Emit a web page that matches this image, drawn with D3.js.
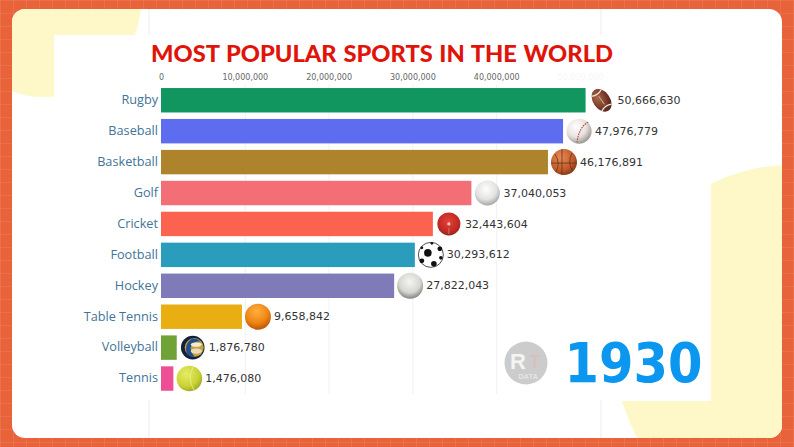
<!DOCTYPE html>
<html>
<head>
<meta charset="utf-8">
<script src="https://cdn.jsdelivr.net/npm/d3@7"></script>
<style>
html, body { margin: 0; padding: 0; background: #E8633A; overflow: hidden; }
</style>
</head>
<body>
<div class="chart"></div>
<script>
const sports = ["Rugby", "Baseball", "Basketball", "Golf", "Cricket", "Football", "Hockey", "Table Tennis", "Volleyball", "Tennis"]
const players = [50666630, 47976779, 46176891, 37040053, 32443604, 30293612, 27822043, 9658842, 1876780, 1476080]
const barColors = ["#12965F", "#5E6CF0", "#AD832B", "#F36F75", "#FB6350", "#2A9CBC", "#7E7BB8", "#E9AE12", "#6FA335", "#EE4F94"]
const tickValues = [0, 10000000, 20000000, 30000000, 40000000, 50000000]
const title = "MOST POPULAR SPORTS IN THE WORLD"
const year = "1930"

const width = 794, height = 447

const svg = d3.select(".chart").append("svg")
    .attr("width", width)
    .attr("height", height)
    .style("display", "block")

const defs = svg.append("defs")

function ballGradient(id, stops, cx = "38%", cy = "32%") {
    const g = defs.append("radialGradient").attr("id", id).attr("cx", cx).attr("cy", cy).attr("r", "75%")
    stops.forEach(s => g.append("stop").attr("offset", s[0]).attr("stop-color", s[1]))
}
ballGradient("g-rugby", [["0%", "#A9694A"], ["60%", "#7A3B28"], ["100%", "#4E2219"]])
ballGradient("g-base", [["0%", "#FFFFFF"], ["55%", "#E8E2DE"], ["100%", "#8F8A87"]])
ballGradient("g-basket", [["0%", "#E58A55"], ["65%", "#C25A2B"], ["100%", "#7A3214"]])
ballGradient("g-golf", [["0%", "#FFFFFF"], ["55%", "#E2E2E0"], ["100%", "#8C8C8A"]], "45%", "35%")
ballGradient("g-cricket", [["0%", "#E8403A"], ["60%", "#BE2A22"], ["100%", "#6E1B14"]], "48%", "40%")
ballGradient("g-hockey", [["0%", "#F5F5F3"], ["55%", "#D6D6D2"], ["100%", "#5E5E5C"]], "48%", "35%")
ballGradient("g-tt", [["0%", "#FFB040"], ["60%", "#EE8412"], ["100%", "#B04E06"]], "45%", "30%")
ballGradient("g-tennis", [["0%", "#E6EC64"], ["65%", "#C9D235"], ["100%", "#98A226"]])

// background
svg.append("rect").attr("width", width).attr("height", height).attr("fill", "#E8633A")
const gridStep = 13
svg.append("g").selectAll("line").data(d3.range(0, width, gridStep)).enter().append("line")
    .attr("x1", d => d + 0.5).attr("x2", d => d + 0.5).attr("y1", 0).attr("y2", height)
    .attr("stroke", "#F08A64").attr("stroke-width", 0.6).attr("opacity", 0.6)
svg.append("g").selectAll("line").data(d3.range(0, height, gridStep)).enter().append("line")
    .attr("y1", d => d + 0.5).attr("y2", d => d + 0.5).attr("x1", 0).attr("x2", width)
    .attr("stroke", "#F08A64").attr("stroke-width", 0.6).attr("opacity", 0.6)

defs.append("clipPath").attr("id", "panel")
    .append("rect").attr("x", 12).attr("y", 9).attr("width", 770).attr("height", 429).attr("rx", 13)

const panel = svg.append("g").attr("clip-path", "url(#panel)")
panel.append("rect").attr("x", 12).attr("y", 9).attr("width", 770).attr("height", 429).attr("fill", "#fff")

// pale yellow corners
panel.append("circle").attr("cx", 44).attr("cy", 0).attr("r", 97).attr("fill", "#FEF8C8")
panel.append("rect").attr("x", 54).attr("y", 35).attr("width", 110).attr("height", 80).attr("fill", "#fff")
panel.append("ellipse").attr("cx", 790).attr("cy", 330).attr("rx", 170).attr("ry", 165).attr("fill", "#FEF8C8")
panel.append("rect").attr("x", 600).attr("y", 100).attr("width", 111).attr("height", 301).attr("fill", "#fff")
panel.append("path").attr("d", "M622,401 Q628,420 637,438 L782,438 L782,401 Z").attr("fill", "#FEF8C8")
panel.append("rect").attr("x", 711).attr("y", 330).attr("width", 71).attr("height", 108).attr("fill", "#FEF8C8")

// seam lines of the inner frame
panel.selectAll(".seam").data([149, 601]).enter().append("g").each(function(d) {
    d3.select(this).append("line").attr("x1", d).attr("x2", d).attr("y1", 9).attr("y2", 35).attr("stroke", "#EDEDED")
    d3.select(this).append("line").attr("x1", d).attr("x2", d).attr("y1", 400).attr("y2", 438).attr("stroke", "#EDEDED")
})

const xScale = d3.scaleLinear().domain([0, 50000000]).range([161, 580])
const yScale = d3.scaleBand().domain(sports).range([84.8, 394]).paddingInner(0.21).paddingOuter(0.105)

// grid and axis
const grid = svg.append("g")
    .attr("transform", "translate(0,394)")
    .call(d3.axisTop(xScale).tickValues(tickValues.slice(1, 5)).tickSize(309).tickFormat(""))
grid.select(".domain").remove()
grid.selectAll("line").attr("stroke", "#F1F1F1")

const xAxis = svg.append("g")
    .attr("transform", "translate(0,80)")
    .call(d3.axisTop(xScale).tickValues(tickValues).tickSize(0).tickPadding(0).tickFormat(d3.format(",")))
xAxis.select(".domain").remove()
xAxis.selectAll("text")
    .attr("font-family", "DejaVu Sans")
    .attr("font-size", 8)
    .attr("fill", "#666")
    .attr("opacity", d => d === 50000000 ? 0.05 : 1)

svg.append("text")
    .attr("x", 382).attr("y", 62)
    .attr("text-anchor", "middle")
    .attr("font-family", "Lato")
    .attr("font-weight", 900)
    .attr("font-size", 23)
    .attr("word-spacing", 1)
    .attr("textLength", 462)
    .attr("lengthAdjust", "spacingAndGlyphs")
    .attr("fill", "#E0140A")
    .text(title)

// bars
svg.selectAll(".bar").data(sports).enter().append("rect")
    .attr("class", "bar")
    .attr("x", xScale(0))
    .attr("y", d => yScale(d))
    .attr("width", (d, i) => xScale(players[i]) - xScale(0))
    .attr("height", yScale.bandwidth())
    .attr("fill", (d, i) => barColors[i])

svg.selectAll(".name").data(sports).enter().append("text")
    .attr("class", "name")
    .attr("x", xScale(0) - 3)
    .attr("y", d => yScale(d) + yScale.bandwidth() / 2 - 0.6)
    .attr("dy", "0.35em")
    .attr("text-anchor", "end")
    .attr("font-family", "Open Sans")
    .attr("font-size", 12.7)
    .attr("fill", "#3F7499")
    .text(d => d)

svg.selectAll(".value").data(sports).enter().append("text")
    .attr("class", "value")
    .attr("x", (d, i) => xScale(players[i]) + 32)
    .attr("y", d => yScale(d) + yScale.bandwidth() / 2 - 0.4)
    .attr("dy", "0.36em")
    .attr("font-family", "DejaVu Sans")
    .attr("font-size", 11)
    .attr("fill", "#333")
    .attr("stroke", "#fff")
    .attr("stroke-width", 3)
    .attr("paint-order", "stroke")
    .text((d, i) => d3.format(",")(players[i]))

// ball icons, drawn around (0,0)
const R = 12.5
const icons = {
    "Rugby": g => {
        const e = g.append("g").attr("transform", "rotate(-35)")
        e.append("ellipse").attr("rx", 8.5).attr("ry", 12.5).attr("fill", "url(#g-rugby)")
        e.append("line").attr("x1", 0).attr("x2", 0).attr("y1", -5).attr("y2", 5).attr("stroke", "#C8A890").attr("stroke-width", 1)
        e.append("path").attr("d", "M-6,-9 Q0,-6 6,-9 M-6,9 Q0,6 6,9").attr("fill", "none").attr("stroke", "#EFE6DC").attr("stroke-width", 1.3)
    },
    "Baseball": g => {
        g.append("circle").attr("r", R).attr("fill", "url(#g-base)")
        g.append("path").attr("d", "M9,-9 Q0,-4 -2,11").attr("fill", "none").attr("stroke", "#A8433C").attr("stroke-width", 1.1).attr("stroke-dasharray", "1.5 1")
    },
    "Basketball": g => {
        g.append("circle").attr("r", 13).attr("fill", "url(#g-basket)")
        g.append("path").attr("d", "M-13,1 H13 M-2,-13 V13 M-9,-8 Q-3,1 -8,10 M8,-9 Q3,1 9,9").attr("fill", "none").attr("stroke", "#5A2A14").attr("stroke-width", 0.7)
    },
    "Golf": g => g.append("circle").attr("r", R).attr("fill", "url(#g-golf)"),
    "Cricket": g => {
        g.append("circle").attr("r", 11.5).attr("fill", "url(#g-cricket)")
        g.append("circle").attr("r", 1.6).attr("fill", "#F7C8BC")
        g.append("line").attr("x1", 0).attr("x2", 0).attr("y1", 4).attr("y2", 10).attr("stroke", "#D8857A").attr("stroke-width", 0.8)
    },
    "Football": g => {
        g.append("circle").attr("r", 12.5).attr("fill", "#fff").attr("stroke", "#222").attr("stroke-width", 0.8)
        const spots = [[-3, -2, 3.8], [9, -6, 2.4], [10, 3, 1.8], [3, 9, 2.8], [-9, 6, 2.4], [-9, -7, 1.4], [1, -11.5, 1.3]]
        spots.forEach(s => g.append("circle").attr("cx", s[0]).attr("cy", s[1]).attr("r", s[2]).attr("fill", "#111"))
    },
    "Hockey": g => g.append("circle").attr("r", 13).attr("fill", "url(#g-hockey)"),
    "Table Tennis": g => g.append("circle").attr("r", 13).attr("fill", "url(#g-tt)"),
    "Volleyball": g => {
        g.append("circle").attr("r", 11.8).attr("fill", "#14203A")
        g.append("circle").attr("r", 9.5).attr("cx", 1.5).attr("fill", "#C9A23F")
        g.append("path").attr("d", "M-1,-9 Q-9,-3 -6,6 Q-3,10 2,9 Q-4,3 -1,-3 Q2,-7 8,-6 Q4,-10 -1,-9 Z").attr("fill", "#1E4E8C")
        g.append("ellipse").attr("cx", 3.5).attr("cy", -3).attr("rx", 5.5).attr("ry", 2.2).attr("fill", "#F2EBD2")
        g.append("ellipse").attr("cx", 3.5).attr("cy", 3.5).attr("rx", 5.5).attr("ry", 2.6).attr("fill", "#E8DDB8")
    },
    "Tennis": g => {
        g.append("circle").attr("r", 12.8).attr("fill", "url(#g-tennis)")
        g.append("path").attr("d", "M4,-12 Q-3,0 5,12").attr("fill", "none").attr("stroke", "#EAEE88").attr("stroke-width", 0.9)
    }
}

svg.selectAll(".icon").data(sports).enter().append("g")
    .attr("class", "icon")
    .attr("transform", (d, i) => `translate(${xScale(players[i]) + 16},${yScale(d) + yScale.bandwidth() / 2})`)
    .each(function(d) { icons[d](d3.select(this)) })

// logo
const logo = svg.append("g").attr("transform", "translate(526,363)")
logo.append("circle").attr("r", 21.5).attr("fill", "#CCCCCC")
logo.append("text").attr("x", -8).attr("y", 6).attr("text-anchor", "middle")
    .attr("font-family", "Liberation Sans").attr("font-weight", 700).attr("font-size", 22).attr("fill", "#F4F4F4").text("R")
logo.append("text").attr("x", 9).attr("y", 5).attr("text-anchor", "middle")
    .attr("font-family", "Liberation Sans").attr("font-weight", 700).attr("font-size", 18).attr("fill", "#D8C0BC").text("T")
logo.append("text").attr("x", 2).attr("y", 15.5).attr("text-anchor", "middle")
    .attr("font-family", "Liberation Sans").attr("font-weight", 700).attr("font-size", 7.5).attr("fill", "#E4E4E4").text("DATA")

svg.append("text")
    .attr("x", 564.5).attr("y", 382)
    .attr("font-family", "DejaVu Sans")
    .attr("font-weight", 700)
    .attr("font-size", 55)
    .attr("textLength", 138)
    .attr("lengthAdjust", "spacingAndGlyphs")
    .attr("fill", "#0B96F0")
    .text(year)
</script>
</body>
</html>
